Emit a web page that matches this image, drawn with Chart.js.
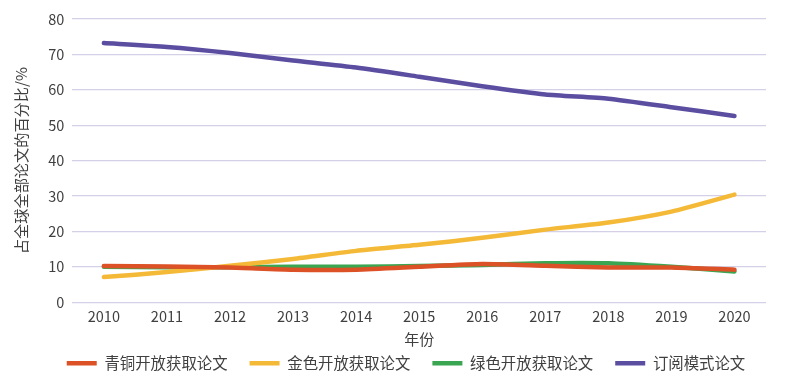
<!DOCTYPE html>
<html><head><meta charset="utf-8">
<script src="https://cdn.jsdelivr.net/npm/chart.js@4/dist/chart.umd.min.js"></script>
<style>html,body{margin:0;padding:0;background:#fff}#wrap{width:785px;height:379px}</style>
</head><body><div id="wrap"><canvas id="c" width="785" height="379"></canvas></div>
<script>
const years = ['2010','2011','2012','2013','2014','2015','2016','2017','2018','2019','2020'];
const bronze = [10.2,10.1,9.8,9.2,9.2,10.0,10.8,10.3,9.8,9.8,9.2];
const gold = [7.1,8.5,10.3,12.2,14.5,16.2,18.2,20.5,22.5,25.6,30.4];
const green = [10.0,9.9,9.9,10.0,10.0,10.2,10.5,11.0,11.0,10.0,8.7];
const subscription = [73.2,72.1,70.4,68.3,66.3,63.7,61.0,58.7,57.5,55.1,52.6];
const seriesNames = ['青铜开放获取论文','金色开放获取论文','绿色开放获取论文','订阅模式论文'];
const yTitle = '占全球全部论文的百分比/%';
const xTitle = '年份';
const colors = ['#dd5127','#f4b937','#3aa652','#5b4ea1'];
const font = "'Noto Sans CJK SC','Noto Sans',sans-serif";
const mk = (i, d) => ({label: seriesNames[i], data: d, borderColor: colors[i], backgroundColor: colors[i], borderWidth: 4.5, pointRadius: 0, pointStyle: 'line', tension: 0.2, borderCapStyle:'round'});
const shiftLegend = {id: 'shiftLegend', afterLayout(chart) { const l = chart.legend; l.left += 17; l.right += 17; }};
new Chart(document.getElementById('c'), {
  type: 'line',
  data: {labels: years, datasets: [mk(0,bronze), mk(1,gold), mk(2,green), mk(3,subscription)]},
  plugins: [shiftLegend],
  options: {
    responsive: false, animation: false,
    layout: {padding: {left: 12, right: 19, top: 19, bottom: -2}},
    plugins: {
      legend: {position: 'bottom', labels: {usePointStyle: true, pointStyle: 'line', pointStyleWidth: 30, boxHeight: 8, padding: 22, color: '#404040', font: {family: font, size: 15.4}}},
      tooltip: {enabled: false}
    },
    scales: {
      x: {offset: true, grid: {display: false, drawTicks: false}, border: {display: false},
          ticks: {color: '#404040', font: {family: font, size: 14.5}, padding: 6},
          title: {display: true, text: xTitle, color: '#404040', font: {family: font, size: 15}, padding: {top: -1, bottom: -15}}},
      y: {min: 0, max: 80, ticks: {stepSize: 10, color: '#404040', font: {family: font, size: 14.5}, padding: 8},
          grid: {color: '#d4d0e8', lineWidth: 1.2, drawTicks: false}, border: {display: false},
          title: {display: true, text: yTitle, color: '#404040', font: {family: font, size: 15.2}, padding: {top: 0, bottom: 10}}}
    }
  }
});
</script></body></html>
